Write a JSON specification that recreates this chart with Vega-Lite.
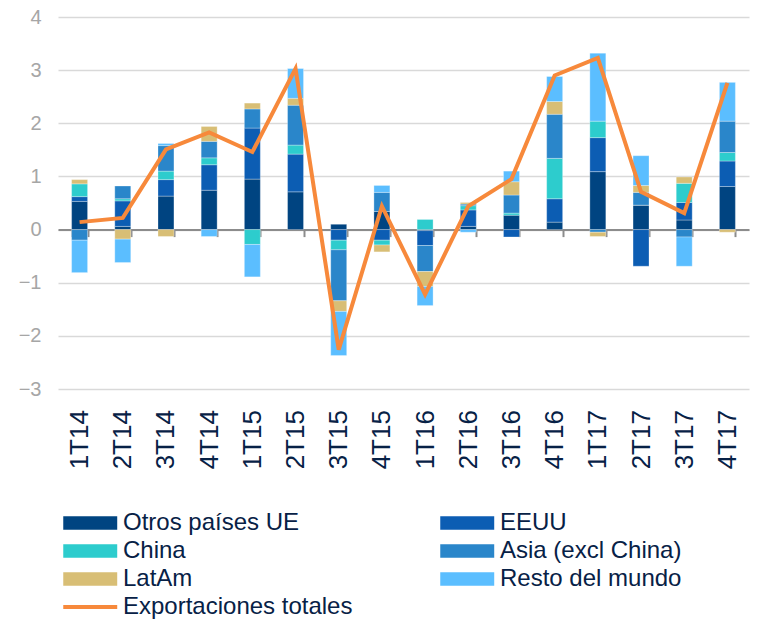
{
  "$schema": "https://vega.github.io/schema/vega-lite/v6.json",
  "width": 691,
  "height": 372,
  "autosize": {"type": "none"},
  "padding": {"left": 58, "top": 17, "right": 8, "bottom": 234},
  "background": "white",
  "config": {
    "view": {"stroke": null},
    "font": "Liberation Sans"
  },
  "datasets": {
    "series": [
      {"serie": "Otros países UE", "o": 1},
      {"serie": "EEUU", "o": 2},
      {"serie": "China", "o": 3},
      {"serie": "Asia (excl China)", "o": 4},
      {"serie": "LatAm", "o": 5},
      {"serie": "Resto del mundo", "o": 6},
      {"serie": "Exportaciones totales", "o": 7}
    ]
  },
  "data": {"values": [
    {"q":"1T14","serie":"Otros países UE","v":0.53},{"q":"1T14","serie":"EEUU","v":0.09},{"q":"1T14","serie":"China","v":0.24},{"q":"1T14","serie":"Asia (excl China)","v":-0.2},{"q":"1T14","serie":"LatAm","v":0.08},{"q":"1T14","serie":"Resto del mundo","v":-0.61},{"q":"1T14","serie":"Exportaciones totales","v":0.14},
    {"q":"2T14","serie":"Otros países UE","v":0.06},{"q":"2T14","serie":"EEUU","v":0.48},{"q":"2T14","serie":"China","v":0.04},{"q":"2T14","serie":"Asia (excl China)","v":0.24},{"q":"2T14","serie":"LatAm","v":-0.18},{"q":"2T14","serie":"Resto del mundo","v":-0.44},{"q":"2T14","serie":"Exportaciones totales","v":0.22},
    {"q":"3T14","serie":"Otros países UE","v":0.63},{"q":"3T14","serie":"EEUU","v":0.31},{"q":"3T14","serie":"China","v":0.16},{"q":"3T14","serie":"Asia (excl China)","v":0.48},{"q":"3T14","serie":"LatAm","v":-0.13},{"q":"3T14","serie":"Resto del mundo","v":0.04},{"q":"3T14","serie":"Exportaciones totales","v":1.51},
    {"q":"4T14","serie":"Otros países UE","v":0.74},{"q":"4T14","serie":"EEUU","v":0.48},{"q":"4T14","serie":"China","v":0.13},{"q":"4T14","serie":"Asia (excl China)","v":0.31},{"q":"4T14","serie":"LatAm","v":0.28},{"q":"4T14","serie":"Resto del mundo","v":-0.13},{"q":"4T14","serie":"Exportaciones totales","v":1.83},
    {"q":"1T15","serie":"Otros países UE","v":0.95},{"q":"1T15","serie":"EEUU","v":0.96},{"q":"1T15","serie":"China","v":-0.28},{"q":"1T15","serie":"Asia (excl China)","v":0.36},{"q":"1T15","serie":"LatAm","v":0.11},{"q":"1T15","serie":"Resto del mundo","v":-0.61},{"q":"1T15","serie":"Exportaciones totales","v":1.46},
    {"q":"2T15","serie":"Otros países UE","v":0.71},{"q":"2T15","serie":"EEUU","v":0.71},{"q":"2T15","serie":"China","v":0.17},{"q":"2T15","serie":"Asia (excl China)","v":0.75},{"q":"2T15","serie":"LatAm","v":0.13},{"q":"2T15","serie":"Resto del mundo","v":0.56},{"q":"2T15","serie":"Exportaciones totales","v":3.03},
    {"q":"3T15","serie":"Otros países UE","v":0.10},{"q":"3T15","serie":"EEUU","v":-0.20},{"q":"3T15","serie":"China","v":-0.18},{"q":"3T15","serie":"Asia (excl China)","v":-0.96},{"q":"3T15","serie":"LatAm","v":-0.20},{"q":"3T15","serie":"Resto del mundo","v":-0.83},{"q":"3T15","serie":"Exportaciones totales","v":-2.26},
    {"q":"4T15","serie":"Otros países UE","v":0.34},{"q":"4T15","serie":"EEUU","v":-0.20},{"q":"4T15","serie":"China","v":-0.09},{"q":"4T15","serie":"Asia (excl China)","v":0.36},{"q":"4T15","serie":"LatAm","v":-0.13},{"q":"4T15","serie":"Resto del mundo","v":0.13},{"q":"4T15","serie":"Exportaciones totales","v":0.44},
    {"q":"1T16","serie":"Otros países UE","v":-0.02},{"q":"1T16","serie":"EEUU","v":-0.28},{"q":"1T16","serie":"China","v":0.19},{"q":"1T16","serie":"Asia (excl China)","v":-0.49},{"q":"1T16","serie":"LatAm","v":-0.28},{"q":"1T16","serie":"Resto del mundo","v":-0.36},{"q":"1T16","serie":"Exportaciones totales","v":-1.22},
    {"q":"2T16","serie":"Otros países UE","v":0.06},{"q":"2T16","serie":"EEUU","v":0.31},{"q":"2T16","serie":"China","v":0.08},{"q":"2T16","serie":"Asia (excl China)","v":0.03},{"q":"2T16","serie":"LatAm","v":0.03},{"q":"2T16","serie":"Resto del mundo","v":-0.05},{"q":"2T16","serie":"Exportaciones totales","v":0.44},
    {"q":"3T16","serie":"Otros países UE","v":0.27},{"q":"3T16","serie":"EEUU","v":-0.14},{"q":"3T16","serie":"China","v":0.04},{"q":"3T16","serie":"Asia (excl China)","v":0.34},{"q":"3T16","serie":"LatAm","v":0.25},{"q":"3T16","serie":"Resto del mundo","v":0.20},{"q":"3T16","serie":"Exportaciones totales","v":0.95},
    {"q":"4T16","serie":"Otros países UE","v":0.14},{"q":"4T16","serie":"EEUU","v":0.44},{"q":"4T16","serie":"China","v":0.76},{"q":"4T16","serie":"Asia (excl China)","v":0.83},{"q":"4T16","serie":"LatAm","v":0.24},{"q":"4T16","serie":"Resto del mundo","v":0.47},{"q":"4T16","serie":"Exportaciones totales","v":2.90},
    {"q":"1T17","serie":"Otros países UE","v":1.09},{"q":"1T17","serie":"EEUU","v":0.64},{"q":"1T17","serie":"China","v":0.31},{"q":"1T17","serie":"Asia (excl China)","v":-0.05},{"q":"1T17","serie":"LatAm","v":-0.08},{"q":"1T17","serie":"Resto del mundo","v":1.28},{"q":"1T17","serie":"Exportaciones totales","v":3.23},
    {"q":"2T17","serie":"Otros países UE","v":0.46},{"q":"2T17","serie":"EEUU","v":-0.69},{"q":"2T17","serie":"China","v":0.0},{"q":"2T17","serie":"Asia (excl China)","v":0.24},{"q":"2T17","serie":"LatAm","v":0.13},{"q":"2T17","serie":"Resto del mundo","v":0.56},{"q":"2T17","serie":"Exportaciones totales","v":0.71},
    {"q":"3T17","serie":"Otros países UE","v":0.18},{"q":"3T17","serie":"EEUU","v":0.33},{"q":"3T17","serie":"China","v":0.36},{"q":"3T17","serie":"Asia (excl China)","v":-0.14},{"q":"3T17","serie":"LatAm","v":0.12},{"q":"3T17","serie":"Resto del mundo","v":-0.55},{"q":"3T17","serie":"Exportaciones totales","v":0.31},
    {"q":"4T17","serie":"Otros países UE","v":0.81},{"q":"4T17","serie":"EEUU","v":0.48},{"q":"4T17","serie":"China","v":0.16},{"q":"4T17","serie":"Asia (excl China)","v":0.59},{"q":"4T17","serie":"LatAm","v":-0.05},{"q":"4T17","serie":"Resto del mundo","v":0.73},{"q":"4T17","serie":"Exportaciones totales","v":2.76}
  ]},
  "transform": [
    {"lookup": "serie", "from": {"data": {"name": "series"}, "key": "serie", "fields": ["o"]}}
  ],
  "encoding": {
    "x": {
      "field": "q", "type": "nominal", "sort": null,
      "scale": {"paddingInner": 0.63, "paddingOuter": 0.315},
      "axis": {
        "title": null, "orient": "bottom", "offset": -159.4,
        "domainColor": "#8C8C8C", "domainWidth": 2,
        "tickColor": "#8C8C8C", "tickWidth": 2, "tickSize": 7, "tickBand": "extent",
        "labelAngle": -90, "labelPadding": 173, "labelFontSize": 26, "labelColor": "#072146",
        "labelFont": "Liberation Sans"
      }
    },
    "y": {
      "field": "v", "type": "quantitative",
      "scale": {"domain": [-3, 4], "nice": false, "zero": false},
      "axis": {
        "title": null, "values": [-3, -2, -1, 0, 1, 2, 3, 4],
        "domain": false, "ticks": false, "grid": true,
        "gridColor": "#D9D9D9", "gridWidth": 1.5,
        "labelFontSize": 20, "labelColor": "#A6A6A6", "labelPadding": 17,
        "labelFont": "Liberation Sans"
      }
    },
    "color": {
      "field": "serie", "type": "nominal",
      "scale": {
        "domain": ["Otros países UE", "EEUU", "China", "Asia (excl China)", "LatAm", "Resto del mundo", "Exportaciones totales"],
        "range": ["#004481", "#0C5DB3", "#2DCCCD", "#2A86CA", "#D8BE75", "#5BBEFF", "#F7893B"]
      },
      "legend": {
        "title": null, "orient": "none", "legendX": 0, "legendY": 494,
        "direction": "horizontal",
        "columns": 2, "columnPadding": 82, "rowPadding": 4, "padding": 0,
        "symbolSize": 182, "labelOffset": 41, "labelFontSize": 24, "labelColor": "#072146",
        "labelFont": "Liberation Sans", "labelLimit": 400,
        "encode": {
          "symbols": {
            "update": {
              "shape": {"signal": "datum.value === 'Exportaciones totales' ? 'M-1,0H7' : 'M-1,-1H7V1H-1Z'"},
              "fillOpacity": {"signal": "datum.value === 'Exportaciones totales' ? 0 : 1"},
              "opacity": {"value": 1},
              "stroke": {"signal": "scale('color', datum.value)"},
              "strokeWidth": {"signal": "datum.value === 'Exportaciones totales' ? 4 : 0"}
            }
          }
        }
      }
    }
  },
  "layer": [
    {
      "transform": [{"filter": "datum.serie !== 'Exportaciones totales'"}],
      "mark": {"type": "bar", "stroke": "#FFFFFF", "strokeWidth": 0.5, "strokeOpacity": 0.6},
      "encoding": {"order": {"field": "o", "type": "quantitative", "sort": "ascending"}}
    },
    {
      "transform": [{"filter": "datum.serie === 'Exportaciones totales'"}],
      "mark": {"type": "line", "strokeWidth": 4}
    }
  ]
}
